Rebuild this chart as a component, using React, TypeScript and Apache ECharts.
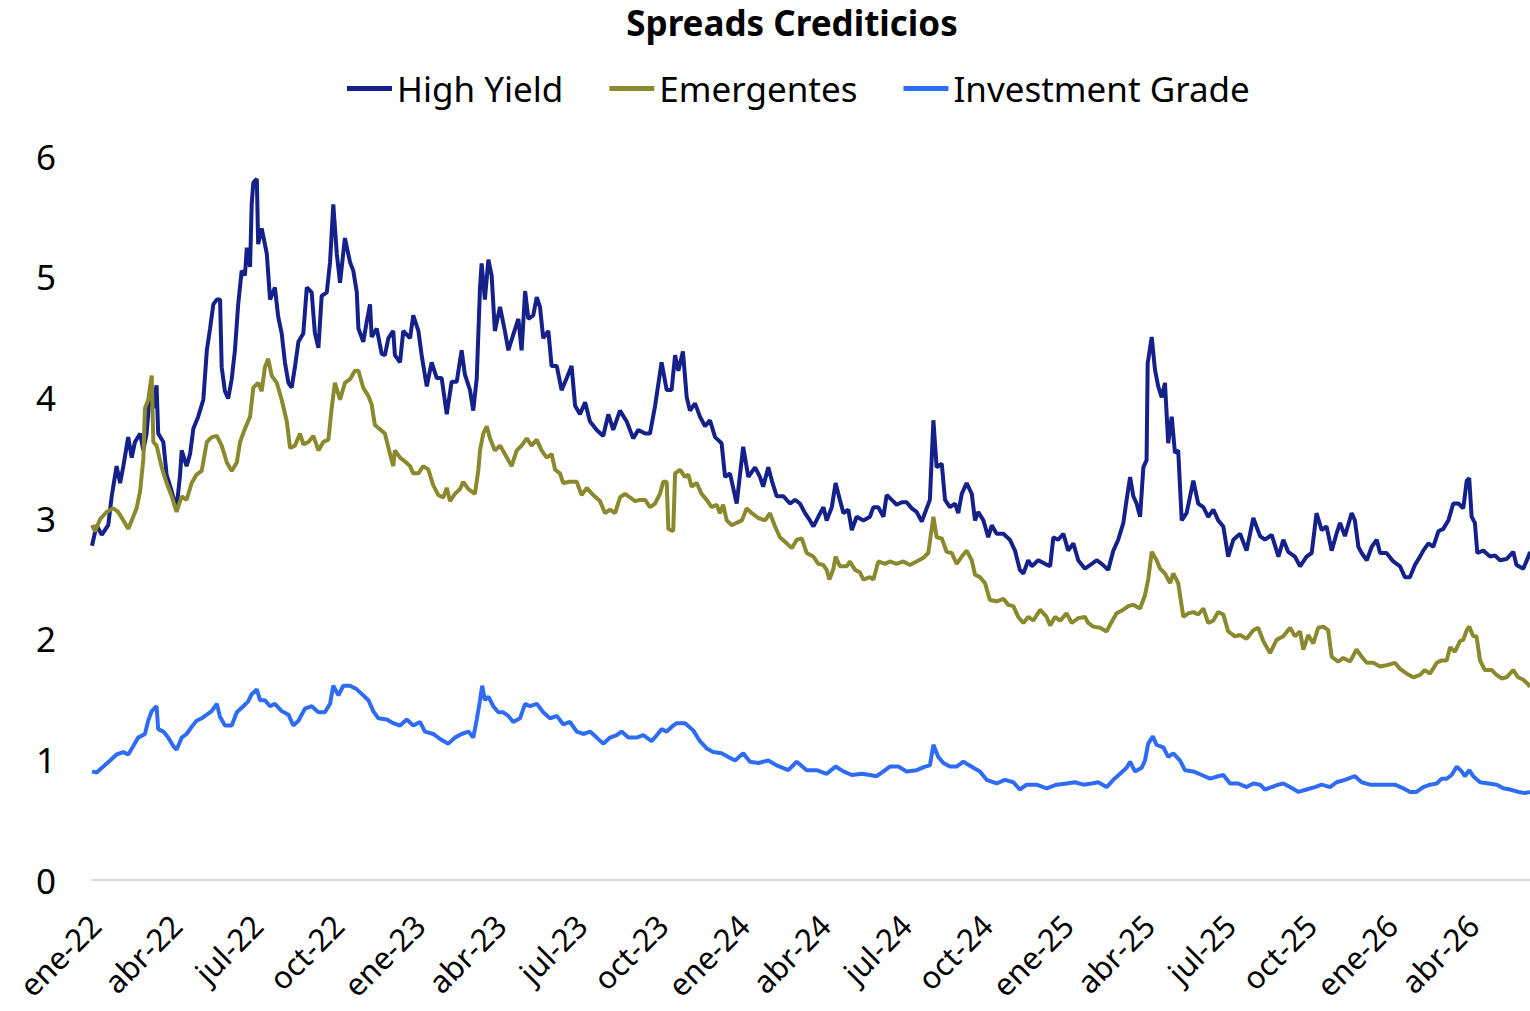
import React, { useEffect, useRef } from "react";
import * as echarts from "echarts";

// x = months elapsed since 1 January 2022 (ene-22 = 0, abr-22 = 3, ...)
const tickLabels = [
  "ene-22", "abr-22", "jul-22", "oct-22",
  "ene-23", "abr-23", "jul-23", "oct-23",
  "ene-24", "abr-24", "jul-24", "oct-24",
  "ene-25", "abr-25", "jul-25", "oct-25",
  "ene-26", "abr-26",
];

const seriesNames = ["High Yield", "Emergentes", "Investment Grade"];

const highYield: [number, number][] = [
  [0, 2.77], [0.17, 2.94], [0.36, 2.86], [0.6, 2.94], [0.73, 3.18], [0.91, 3.43], [1.04, 3.29], [1.16, 3.43],
  [1.34, 3.67], [1.47, 3.5], [1.59, 3.63], [1.78, 3.7], [1.9, 3.56], [2.02, 3.7], [2.15, 4.05], [2.27, 3.91],
  [2.39, 4.1], [2.45, 3.7], [2.64, 3.63], [2.76, 3.36], [2.95, 3.22], [3.13, 3.08], [3.26, 3.36], [3.32, 3.56],
  [3.5, 3.43], [3.63, 3.53], [3.75, 3.74], [3.93, 3.84], [4.12, 3.98], [4.25, 4.39], [4.37, 4.57], [4.49, 4.77],
  [4.62, 4.81], [4.74, 4.81], [4.8, 4.25], [4.92, 4.05], [5.04, 3.99], [5.17, 4.15], [5.29, 4.39], [5.41, 4.77],
  [5.54, 5.05], [5.66, 5.01], [5.73, 5.24], [5.85, 5.08], [5.91, 5.6], [5.97, 5.78], [6.1, 5.81], [6.15, 5.27],
  [6.28, 5.4], [6.47, 5.19], [6.59, 4.81], [6.77, 4.91], [6.89, 4.67], [7.02, 4.53], [7.14, 4.29], [7.27, 4.12],
  [7.39, 4.08], [7.51, 4.25], [7.64, 4.46], [7.82, 4.53], [7.95, 4.91], [8.13, 4.87], [8.25, 4.53], [8.38, 4.41],
  [8.5, 4.84], [8.69, 4.87], [8.81, 5.12], [8.93, 5.6], [9.06, 5.19], [9.18, 4.95], [9.36, 5.32], [9.55, 5.12],
  [9.67, 5.05], [9.8, 4.87], [9.86, 4.57], [10.04, 4.46], [10.17, 4.63], [10.29, 4.77], [10.35, 4.5], [10.54, 4.57],
  [10.72, 4.36], [10.84, 4.35], [10.97, 4.49], [11.15, 4.55], [11.21, 4.35], [11.4, 4.29], [11.52, 4.55], [11.77, 4.49],
  [11.89, 4.68], [12.08, 4.55], [12.2, 4.35], [12.39, 4.09], [12.57, 4.29], [12.76, 4.16], [12.94, 4.16], [13.13, 3.86],
  [13.31, 4.13], [13.5, 4.13], [13.68, 4.39], [13.8, 4.19], [13.99, 4.06], [14.11, 3.89], [14.24, 4.16], [14.36, 4.91],
  [14.42, 5.11], [14.54, 4.81], [14.67, 5.14], [14.79, 5.01], [14.91, 4.55], [15.1, 4.75], [15.28, 4.55], [15.41, 4.39],
  [15.59, 4.52], [15.78, 4.65], [15.9, 4.39], [16.03, 4.88], [16.15, 4.65], [16.33, 4.68], [16.46, 4.83], [16.58, 4.75],
  [16.7, 4.49], [16.89, 4.55], [17.01, 4.26], [17.2, 4.26], [17.38, 4.06], [17.57, 4.16], [17.75, 4.26], [17.88, 3.93],
  [18.06, 3.86], [18.25, 3.96], [18.43, 3.8], [18.68, 3.73], [18.92, 3.68], [19.11, 3.86], [19.29, 3.73], [19.54, 3.89],
  [19.79, 3.8], [20.03, 3.66], [20.22, 3.73], [20.47, 3.7], [20.65, 3.7], [20.84, 3.93], [21.08, 4.29], [21.27, 4.06],
  [21.45, 4.06], [21.58, 4.35], [21.7, 4.22], [21.87, 4.38], [22.01, 4.0], [22.13, 3.89], [22.32, 3.95], [22.5, 3.84],
  [22.69, 3.76], [22.87, 3.81], [23.06, 3.67], [23.3, 3.62], [23.43, 3.34], [23.61, 3.37], [23.86, 3.12], [24.1, 3.59],
  [24.29, 3.34], [24.54, 3.42], [24.72, 3.34], [24.84, 3.26], [25.03, 3.42], [25.16, 3.31], [25.34, 3.18], [25.59, 3.18],
  [25.83, 3.12], [26.02, 3.15], [26.2, 3.12], [26.39, 3.04], [26.57, 2.98], [26.7, 2.93], [26.88, 3.01], [27.07, 3.09],
  [27.19, 2.98], [27.38, 3.09], [27.52, 3.29], [27.68, 3.15], [27.81, 3.04], [27.99, 3.07], [28.12, 2.9], [28.3, 3.01],
  [28.55, 2.98], [28.79, 3.01], [28.92, 3.09], [29.1, 3.09], [29.29, 3.01], [29.41, 3.19], [29.6, 3.15], [29.78, 3.11],
  [29.97, 3.13], [30.15, 3.13], [30.34, 3.08], [30.52, 3.05], [30.71, 2.97], [30.89, 3.08], [31.01, 3.15], [31.14, 3.81],
  [31.26, 3.42], [31.45, 3.45], [31.57, 3.15], [31.75, 3.09], [31.94, 3.12], [32.06, 3.04], [32.19, 3.2], [32.37, 3.29],
  [32.56, 3.2], [32.68, 2.98], [32.8, 3.05], [32.99, 2.98], [33.17, 2.84], [33.3, 2.94], [33.48, 2.87], [33.73, 2.87],
  [33.97, 2.82], [34.16, 2.73], [34.34, 2.57], [34.47, 2.54], [34.65, 2.65], [34.78, 2.6], [35.02, 2.65], [35.27, 2.62],
  [35.46, 2.6], [35.58, 2.84], [35.76, 2.82], [35.95, 2.87], [36.13, 2.73], [36.32, 2.79], [36.5, 2.65], [36.75, 2.58],
  [37.0, 2.62], [37.18, 2.65], [37.37, 2.62], [37.61, 2.57], [37.8, 2.73], [37.98, 2.82], [38.17, 2.96], [38.29, 3.15],
  [38.42, 3.34], [38.54, 3.18], [38.66, 3.12], [38.79, 3.01], [38.91, 3.42], [39.03, 3.48], [39.07, 4.28], [39.22, 4.5],
  [39.34, 4.23], [39.46, 4.09], [39.59, 4.0], [39.71, 4.12], [39.83, 3.62], [39.96, 3.84], [40.08, 3.54], [40.2, 3.56],
  [40.33, 2.98], [40.51, 3.04], [40.76, 3.31], [40.94, 3.12], [41.13, 3.09], [41.31, 3.01], [41.5, 3.07], [41.68, 2.98],
  [41.87, 2.93], [42.05, 2.68], [42.24, 2.82], [42.49, 2.87], [42.73, 2.73], [42.98, 3.0], [43.23, 2.85], [43.41, 2.82],
  [43.66, 2.86], [43.91, 2.68], [44.09, 2.82], [44.27, 2.72], [44.52, 2.68], [44.71, 2.6], [44.95, 2.68], [45.14, 2.71],
  [45.32, 3.04], [45.51, 2.9], [45.69, 2.93], [45.88, 2.73], [46.06, 2.87], [46.19, 2.96], [46.37, 2.85], [46.62, 3.04],
  [46.74, 2.98], [46.87, 2.76], [46.99, 2.71], [47.18, 2.65], [47.36, 2.76], [47.55, 2.82], [47.67, 2.71], [47.91, 2.71],
  [48.16, 2.64], [48.41, 2.6], [48.59, 2.51], [48.78, 2.51], [48.96, 2.61], [49.15, 2.68], [49.27, 2.73], [49.46, 2.79],
  [49.64, 2.76], [49.83, 2.89], [50.01, 2.91], [50.2, 2.98], [50.38, 3.12], [50.57, 3.12], [50.75, 3.08], [50.88, 3.31],
  [50.97, 3.33], [51.06, 3.01], [51.18, 2.96], [51.27, 2.71], [51.49, 2.73], [51.74, 2.68], [51.92, 2.69], [52.11, 2.65],
  [52.35, 2.66], [52.6, 2.72], [52.72, 2.61], [52.97, 2.58], [53.16, 2.68], [53.22, 2.72],
];

const emergentes: [number, number][] = [
  [0, 2.94], [0.11, 2.89], [0.3, 2.99], [0.54, 3.05], [0.79, 3.08], [0.97, 3.05], [1.16, 2.98], [1.34, 2.91],
  [1.47, 2.98], [1.65, 3.08], [1.78, 3.22], [1.9, 3.49], [1.96, 3.91], [2.08, 3.98], [2.21, 4.18], [2.27, 3.63],
  [2.39, 3.6], [2.58, 3.42], [2.76, 3.29], [2.95, 3.18], [3.13, 3.05], [3.32, 3.18], [3.5, 3.15], [3.69, 3.29],
  [3.87, 3.36], [4.06, 3.39], [4.25, 3.63], [4.43, 3.67], [4.62, 3.68], [4.8, 3.6], [4.99, 3.46], [5.17, 3.39],
  [5.36, 3.46], [5.48, 3.63], [5.66, 3.74], [5.85, 3.84], [5.97, 4.08], [6.15, 4.12], [6.28, 4.05], [6.4, 4.25],
  [6.52, 4.32], [6.65, 4.18], [6.84, 4.12], [7.02, 3.98], [7.21, 3.8], [7.33, 3.58], [7.51, 3.6], [7.7, 3.7],
  [7.82, 3.61], [8.01, 3.63], [8.19, 3.68], [8.38, 3.56], [8.56, 3.63], [8.75, 3.65], [8.87, 3.91], [8.99, 4.12],
  [9.18, 3.98], [9.36, 4.12], [9.55, 4.15], [9.73, 4.22], [9.86, 4.22], [10.04, 4.08], [10.23, 4.01], [10.35, 3.94],
  [10.47, 3.77], [10.84, 3.7], [11.03, 3.53], [11.15, 3.43], [11.21, 3.56], [11.4, 3.5], [11.58, 3.47], [11.77, 3.43],
  [11.89, 3.37], [12.08, 3.37], [12.26, 3.43], [12.45, 3.4], [12.63, 3.27], [12.82, 3.19], [13.0, 3.17], [13.13, 3.25],
  [13.25, 3.14], [13.43, 3.2], [13.62, 3.24], [13.74, 3.3], [13.93, 3.24], [14.17, 3.2], [14.3, 3.4], [14.36, 3.56],
  [14.48, 3.7], [14.61, 3.76], [14.73, 3.66], [14.91, 3.56], [15.1, 3.6], [15.28, 3.53], [15.53, 3.43], [15.72, 3.56],
  [15.9, 3.6], [16.09, 3.66], [16.27, 3.6], [16.46, 3.65], [16.64, 3.56], [16.83, 3.5], [17.01, 3.53], [17.14, 3.4],
  [17.32, 3.37], [17.44, 3.29], [17.69, 3.3], [17.94, 3.3], [18.12, 3.19], [18.31, 3.25], [18.55, 3.19], [18.8, 3.14],
  [18.99, 3.04], [19.17, 3.07], [19.36, 3.04], [19.54, 3.17], [19.73, 3.2], [19.91, 3.17], [20.1, 3.14], [20.28, 3.15],
  [20.47, 3.15], [20.65, 3.09], [20.84, 3.12], [21.02, 3.2], [21.14, 3.3], [21.27, 3.3], [21.33, 2.91], [21.51, 2.89],
  [21.58, 3.37], [21.76, 3.4], [21.95, 3.34], [22.07, 3.36], [22.19, 3.26], [22.38, 3.29], [22.56, 3.2], [22.75, 3.15],
  [22.93, 3.09], [23.12, 3.11], [23.24, 3.04], [23.36, 3.11], [23.49, 2.98], [23.68, 2.94], [23.86, 2.96], [24.05, 2.98],
  [24.23, 3.08], [24.42, 3.04], [24.66, 3.0], [24.91, 2.98], [25.09, 3.04], [25.28, 2.93], [25.46, 2.84], [25.71, 2.79],
  [25.9, 2.75], [26.08, 2.82], [26.27, 2.83], [26.45, 2.71], [26.7, 2.68], [26.88, 2.62], [27.07, 2.61], [27.19, 2.57],
  [27.29, 2.49], [27.44, 2.58], [27.52, 2.68], [27.68, 2.6], [27.93, 2.6], [28.05, 2.64], [28.24, 2.57], [28.42, 2.55],
  [28.55, 2.49], [28.79, 2.51], [28.92, 2.49], [29.1, 2.64], [29.35, 2.62], [29.53, 2.64], [29.78, 2.62], [30.03, 2.64],
  [30.27, 2.61], [30.52, 2.64], [30.77, 2.67], [30.95, 2.71], [31.14, 3.01], [31.26, 2.84], [31.45, 2.83], [31.63, 2.72],
  [31.82, 2.71], [32.0, 2.62], [32.19, 2.68], [32.37, 2.73], [32.56, 2.65], [32.68, 2.53], [32.86, 2.51], [33.05, 2.46],
  [33.23, 2.32], [33.48, 2.31], [33.73, 2.33], [33.91, 2.28], [34.1, 2.27], [34.28, 2.18], [34.47, 2.13], [34.65, 2.18],
  [34.84, 2.15], [35.09, 2.24], [35.33, 2.18], [35.46, 2.11], [35.64, 2.18], [35.83, 2.15], [36.07, 2.21], [36.26, 2.13],
  [36.5, 2.17], [36.75, 2.18], [36.87, 2.13], [37.06, 2.1], [37.31, 2.09], [37.55, 2.06], [37.74, 2.14], [37.92, 2.21],
  [38.17, 2.24], [38.35, 2.27], [38.54, 2.28], [38.79, 2.25], [38.97, 2.36], [39.09, 2.49], [39.22, 2.72], [39.4, 2.65],
  [39.53, 2.58], [39.71, 2.54], [39.9, 2.46], [40.02, 2.54], [40.2, 2.46], [40.39, 2.18], [40.57, 2.21], [40.76, 2.22],
  [40.94, 2.2], [41.13, 2.25], [41.31, 2.13], [41.5, 2.15], [41.68, 2.22], [41.87, 2.2], [42.05, 2.06], [42.3, 2.02],
  [42.49, 2.03], [42.73, 2.0], [42.98, 2.07], [43.16, 2.09], [43.35, 1.98], [43.6, 1.88], [43.84, 1.99], [44.09, 2.02],
  [44.34, 2.09], [44.52, 2.02], [44.71, 2.06], [44.83, 1.91], [45.01, 2.03], [45.2, 1.96], [45.38, 2.09], [45.57, 2.1],
  [45.75, 2.07], [45.88, 1.85], [46.12, 1.81], [46.31, 1.84], [46.56, 1.81], [46.8, 1.91], [46.99, 1.85], [47.18, 1.8],
  [47.42, 1.8], [47.67, 1.77], [47.91, 1.78], [48.22, 1.8], [48.41, 1.75], [48.66, 1.71], [48.9, 1.68], [49.15, 1.7],
  [49.33, 1.74], [49.52, 1.71], [49.77, 1.8], [49.95, 1.82], [50.14, 1.82], [50.26, 1.93], [50.44, 1.89], [50.63, 1.98],
  [50.75, 1.99], [50.88, 2.07], [50.97, 2.1], [51.12, 2.02], [51.24, 2.02], [51.37, 1.82], [51.55, 1.74], [51.8, 1.74],
  [51.98, 1.7], [52.17, 1.67], [52.35, 1.68], [52.6, 1.74], [52.78, 1.68], [52.97, 1.66], [53.16, 1.62], [53.22, 1.6],
];

const investmentGrade: [number, number][] = [
  [0, 0.9], [0.17, 0.89], [0.42, 0.94], [0.67, 0.99], [0.91, 1.04], [1.16, 1.06], [1.34, 1.04], [1.53, 1.11],
  [1.71, 1.18], [1.96, 1.21], [2.08, 1.32], [2.21, 1.4], [2.39, 1.44], [2.45, 1.25], [2.64, 1.23], [2.82, 1.18],
  [3.01, 1.11], [3.13, 1.08], [3.32, 1.18], [3.5, 1.21], [3.69, 1.27], [3.87, 1.32], [4.06, 1.34], [4.25, 1.37],
  [4.43, 1.4], [4.62, 1.46], [4.74, 1.35], [4.92, 1.28], [5.17, 1.28], [5.36, 1.39], [5.6, 1.44], [5.78, 1.48],
  [5.91, 1.54], [6.1, 1.58], [6.22, 1.49], [6.4, 1.49], [6.59, 1.44], [6.77, 1.46], [7.02, 1.4], [7.27, 1.37],
  [7.45, 1.28], [7.64, 1.32], [7.88, 1.42], [8.13, 1.44], [8.38, 1.39], [8.62, 1.39], [8.81, 1.46], [8.93, 1.61],
  [9.12, 1.53], [9.3, 1.61], [9.55, 1.61], [9.8, 1.58], [10.04, 1.53], [10.23, 1.49], [10.41, 1.4], [10.6, 1.34],
  [10.91, 1.33], [11.15, 1.3], [11.4, 1.28], [11.65, 1.33], [11.89, 1.28], [12.14, 1.31], [12.32, 1.23], [12.63, 1.21],
  [12.94, 1.16], [13.19, 1.13], [13.43, 1.18], [13.68, 1.21], [13.93, 1.23], [14.11, 1.18], [14.24, 1.33], [14.36, 1.49],
  [14.44, 1.61], [14.54, 1.49], [14.67, 1.52], [14.85, 1.44], [15.04, 1.39], [15.22, 1.39], [15.41, 1.36], [15.59, 1.31],
  [15.84, 1.34], [16.03, 1.46], [16.21, 1.44], [16.46, 1.46], [16.7, 1.39], [16.95, 1.34], [17.2, 1.36], [17.44, 1.29],
  [17.69, 1.31], [17.94, 1.23], [18.18, 1.21], [18.43, 1.23], [18.68, 1.18], [18.92, 1.13], [19.17, 1.18], [19.42, 1.2],
  [19.6, 1.23], [19.85, 1.18], [20.16, 1.18], [20.4, 1.2], [20.71, 1.15], [20.9, 1.2], [21.08, 1.25], [21.27, 1.23],
  [21.51, 1.28], [21.64, 1.3], [21.95, 1.3], [22.25, 1.24], [22.5, 1.15], [22.75, 1.09], [22.99, 1.06], [23.3, 1.05],
  [23.55, 1.02], [23.8, 0.99], [24.1, 1.05], [24.35, 0.98], [24.66, 0.97], [25.03, 0.99], [25.34, 0.95], [25.77, 0.91],
  [26.08, 0.98], [26.45, 0.91], [26.82, 0.91], [27.19, 0.88], [27.52, 0.94], [27.81, 0.9], [28.12, 0.87], [28.49, 0.88],
  [28.79, 0.87], [29.04, 0.86], [29.29, 0.9], [29.53, 0.94], [29.84, 0.94], [30.15, 0.9], [30.52, 0.91], [30.83, 0.94],
  [31.01, 0.95], [31.14, 1.12], [31.32, 1.02], [31.51, 0.97], [31.75, 0.94], [32.0, 0.94], [32.25, 0.98], [32.62, 0.93],
  [32.86, 0.9], [33.11, 0.83], [33.48, 0.8], [33.79, 0.83], [34.1, 0.81], [34.34, 0.75], [34.59, 0.79], [34.96, 0.79],
  [35.33, 0.76], [35.7, 0.79], [36.07, 0.8], [36.38, 0.81], [36.69, 0.79], [37.0, 0.8], [37.24, 0.81], [37.55, 0.77],
  [37.8, 0.83], [38.05, 0.88], [38.29, 0.93], [38.42, 0.98], [38.6, 0.9], [38.85, 0.93], [38.97, 0.99], [39.09, 1.13],
  [39.26, 1.19], [39.4, 1.12], [39.65, 1.1], [39.83, 1.02], [40.02, 1.05], [40.27, 0.99], [40.45, 0.91], [40.76, 0.9],
  [41.07, 0.87], [41.38, 0.84], [41.68, 0.86], [41.87, 0.87], [42.12, 0.8], [42.42, 0.8], [42.73, 0.77], [42.98, 0.8],
  [43.23, 0.79], [43.41, 0.75], [43.66, 0.77], [43.91, 0.79], [44.09, 0.8], [44.34, 0.77], [44.65, 0.73], [44.95, 0.75],
  [45.26, 0.77], [45.51, 0.79], [45.82, 0.77], [46.06, 0.81], [46.37, 0.83], [46.74, 0.86], [46.99, 0.81], [47.3, 0.79],
  [47.61, 0.79], [47.91, 0.79], [48.22, 0.79], [48.53, 0.76], [48.78, 0.73], [49.02, 0.73], [49.27, 0.77], [49.52, 0.79],
  [49.77, 0.8], [49.95, 0.84], [50.14, 0.84], [50.32, 0.87], [50.51, 0.94], [50.69, 0.9], [50.81, 0.86], [50.97, 0.91],
  [51.12, 0.86], [51.37, 0.81], [51.68, 0.8], [51.99, 0.79], [52.23, 0.76], [52.48, 0.75], [52.79, 0.73], [53.04, 0.72],
  [53.22, 0.73],
];

const colors = ["#15218a", "#8b892e", "#2f6cf6"];
const X_MAX = 53.22;
const FONT = '"Noto Sans", "Open Sans", sans-serif';

export default function App() {
  const ref = useRef<HTMLDivElement>(null);
  useEffect(() => {
    if (!ref.current) return;
    const chart = echarts.init(ref.current, null, { renderer: "svg" });
    const labelFormatter = (v: number) => {
      const i = Math.round(v / 3);
      return Math.abs(v - i * 3) < 0.01 && i < tickLabels.length ? tickLabels[i] : "";
    };
    chart.setOption({
      animation: false,
      backgroundColor: "#ffffff",
      textStyle: { fontFamily: FONT },
      graphic: [
        {
          type: "text",
          x: 792,
          y: 22,
          style: {
            text: "Spreads Crediticios",
            fontFamily: FONT,
            fontSize: 35,
            fontWeight: "bold",
            fill: "#000000",
            align: "center",
            verticalAlign: "middle",
          },
        },
      ],
      legend: {
        data: seriesNames,
        left: 347,
        top: 71,
        padding: 0,
        icon: "rect",
        itemWidth: 45,
        itemHeight: 5,
        itemGap: 46,
        textStyle: { fontSize: 35, color: "#000000", fontFamily: FONT },
      },
      grid: [
        { left: 92, right: 0, top: 156, bottom: 131 },
        { left: 84, width: 1438, top: 156, height: 724 },
      ],
      xAxis: [
        {
          type: "value",
          gridIndex: 0,
          min: 0,
          max: X_MAX,
          interval: 3,
          axisLine: { show: true, lineStyle: { color: "#d9d9d9", width: 2 } },
          axisTick: { show: false },
          axisLabel: { show: false },
          splitLine: { show: false },
        },
        {
          type: "value",
          gridIndex: 1,
          min: 0,
          max: X_MAX,
          interval: 3,
          axisLine: { show: false },
          axisTick: { show: false },
          splitLine: { show: false },
          axisLabel: {
            rotate: 45,
            fontSize: 31,
            lineHeight: 31,
            color: "#000000",
            fontFamily: FONT,
            margin: 29,
            verticalAlign: "top",
            formatter: labelFormatter,
          },
        },
      ],
      yAxis: [
        {
          type: "value",
          gridIndex: 0,
          min: 0,
          max: 6,
          interval: 1,
          axisLine: { show: false },
          axisTick: { show: false },
          splitLine: { show: false },
          axisLabel: { fontSize: 35, color: "#000000", fontFamily: FONT, margin: 36 },
        },
        { type: "value", gridIndex: 1, min: 0, max: 6, show: false },
      ],
      series: [
        { name: seriesNames[0], data: highYield },
        { name: seriesNames[1], data: emergentes },
        { name: seriesNames[2], data: investmentGrade },
      ].map((s, i) => ({
        ...s,
        type: "line",
        xAxisIndex: 0,
        yAxisIndex: 0,
        showSymbol: false,
        symbol: "none",
        color: colors[i],
        lineStyle: { color: colors[i], width: 4 },
      })),
    });
    return () => chart.dispose();
  }, []);
  return (
    <div
      ref={ref}
      style={{ position: "fixed", left: 0, top: 0, width: 1530, height: 1011, background: "#fff" }}
    />
  );
}
